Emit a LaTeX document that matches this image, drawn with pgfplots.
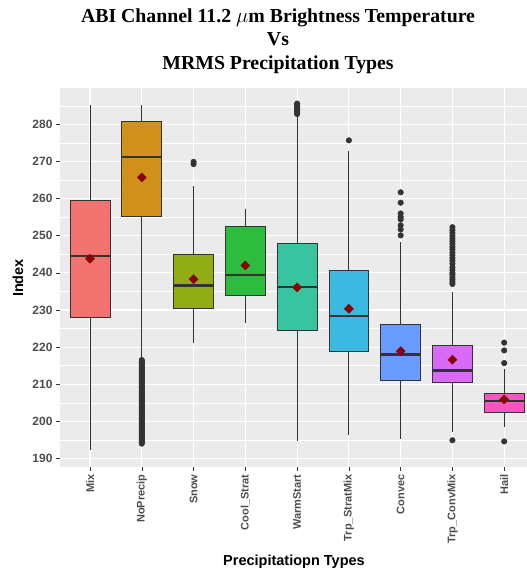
\documentclass[border=0pt]{standalone}
\usepackage{pgfplots}
\pgfplotsset{compat=1.18}
\usepgfplotslibrary{statistics}
\usepackage{fontspec}
\setmainfont{Liberation Sans}
\newfontfamily\titlefont{Liberation Serif}
\definecolor{panelbg}{HTML}{EBEBEB}
\definecolor{boxline}{HTML}{333333}
\definecolor{ticklab}{HTML}{4D4D4D}
\definecolor{meanc}{HTML}{8B0000}
\definecolor{c1}{HTML}{F27370}
\definecolor{c2}{HTML}{D0911A}
\definecolor{c3}{HTML}{91AD13}
\definecolor{c4}{HTML}{2DBC3E}
\definecolor{c5}{HTML}{38C49F}
\definecolor{c6}{HTML}{3BB9E0}
\definecolor{c7}{HTML}{6A9CFF}
\definecolor{c8}{HTML}{D96AF5}
\definecolor{c9}{HTML}{F855C0}
\begin{document}
\begin{tikzpicture}
\path[use as bounding box] (0,0) rectangle (527pt,571pt);
\begin{axis}[
  at={(60pt,104pt)}, anchor=south west,
  scale only axis, width=467pt, height=379pt,
  xmin=0.42, xmax=9.44, ymin=187.7, ymax=289.8,
  axis background/.style={fill=panelbg},
  axis line style={draw=none},
  xtick={1,...,9},
  xticklabels={Mix,NoPrecip,Snow,Cool\_Strat,WarmStart,Trp\_StratMix,Convec,Trp\_ConvMix,Hail},
  ytick={190,200,...,280},
  minor ytick={185,195,...,285},
  xmajorgrids, ymajorgrids, yminorgrids,
  major grid style={white, line width=1.1pt},
  minor grid style={white, line width=0.5pt},
  tick align=outside, xtick pos=bottom, ytick pos=left,
  major tick length=4pt, minor tick length=0pt,
  tick style={color=boxline, line width=0.6pt},
  /pgf/number format/assume math mode=true,
  yticklabel style={font=\bfseries\fontsize{12}{12}\selectfont, text=ticklab},
  xticklabel style={font=\bfseries\fontsize{11}{11}\selectfont, text=ticklab, rotate=90, anchor=east},
  boxplot/draw direction=y,
  boxplot/whisker extend=0,
  boxplot/box extend=0.77,
  boxplot/every median/.style={line width=2.2pt, draw=boxline},
  boxplot/every whisker/.style={line width=0.9pt, draw=boxline},
  boxplot/every box/.style={line width=0.9pt, draw=boxline},
  clip=false,
]
% Boxes
\addplot[fill=c1, draw=boxline, mark=none, boxplot prepared={draw position=1, lower whisker=192.4, lower quartile=228.0, median=244.5, upper quartile=259.6, upper whisker=285.2}] coordinates {};
\addplot[fill=c2, draw=boxline, mark=none, boxplot prepared={draw position=2, lower whisker=216.9, lower quartile=255.1, median=271.3, upper quartile=280.7, upper whisker=285.2}] coordinates {};
\addplot[fill=c3, draw=boxline, mark=none, boxplot prepared={draw position=3, lower whisker=221.1, lower quartile=230.5, median=236.6, upper quartile=245.0, upper whisker=263.4}] coordinates {};
\addplot[fill=c4, draw=boxline, mark=none, boxplot prepared={draw position=4, lower whisker=226.6, lower quartile=233.8, median=239.5, upper quartile=252.4, upper whisker=257.3}] coordinates {};
\addplot[fill=c5, draw=boxline, mark=none, boxplot prepared={draw position=5, lower whisker=194.6, lower quartile=224.6, median=236.1, upper quartile=247.8, upper whisker=282.5}] coordinates {};
\addplot[fill=c6, draw=boxline, mark=none, boxplot prepared={draw position=6, lower whisker=196.4, lower quartile=218.9, median=228.3, upper quartile=240.7, upper whisker=272.9}] coordinates {};
\addplot[fill=c7, draw=boxline, mark=none, boxplot prepared={draw position=7, lower whisker=195.3, lower quartile=211.0, median=218.0, upper quartile=226.1, upper whisker=248.3}] coordinates {};
\addplot[fill=c8, draw=boxline, mark=none, boxplot prepared={draw position=8, lower whisker=197.1, lower quartile=210.4, median=213.7, upper quartile=220.5, upper whisker=234.9}] coordinates {};
\addplot[fill=c9, draw=boxline, mark=none, boxplot prepared={draw position=9, lower whisker=198.5, lower quartile=202.4, median=205.4, upper quartile=207.6, upper whisker=214.2}] coordinates {};
% Outliers
\addplot[only marks, mark=*, mark size=2.8pt, draw=boxline, fill=boxline] coordinates {
(2,194.0)(2,194.3)(2,194.6)(2,194.9)(2,195.2)(2,195.5)(2,195.8)(2,196.1)(2,196.4)(2,196.7)
(2,197.0)(2,197.3)(2,197.6)(2,197.9)(2,198.2)(2,198.5)(2,198.8)(2,199.1)(2,199.4)(2,199.7)
(2,200.0)(2,200.3)(2,200.6)(2,200.9)(2,201.2)(2,201.5)(2,201.8)(2,202.1)(2,202.4)(2,202.7)
(2,203.0)(2,203.3)(2,203.6)(2,203.9)(2,204.2)(2,204.5)(2,204.8)(2,205.1)(2,205.4)(2,205.7)
(2,206.0)(2,206.3)(2,206.6)(2,206.9)(2,207.2)(2,207.5)(2,207.8)(2,208.1)(2,208.4)(2,208.7)
(2,209.0)(2,209.3)(2,209.6)(2,209.9)(2,210.2)(2,210.5)(2,210.8)(2,211.1)(2,211.4)(2,211.7)
(2,212.0)(2,212.3)(2,212.6)(2,212.9)(2,213.2)(2,213.5)(2,213.8)(2,214.1)(2,214.4)(2,214.7)
(2,215.0)(2,215.3)(2,215.6)(2,215.9)(2,216.2)(2,216.5)
(3,269.3)(3,269.9)
(5,282.8)(5,283.2)(5,283.6)(5,284.0)(5,284.4)(5,284.8)(5,285.2)(5,285.6)
(6,275.7)
(7,250.1)(7,251.7)(7,252.8)(7,254.4)(7,255.1)(7,256.0)(7,258.9)(7,261.7)
(8,194.9)
(8,237.0)(8,237.6)(8,238.2)(8,238.8)(8,239.5)(8,240.0)(8,240.8)(8,241.5)(8,242.5)(8,243.3)
(8,244.0)(8,244.8)(8,245.5)(8,246.3)(8,247.0)(8,247.8)(8,248.5)(8,249.2)(8,250.0)(8,250.8)
(8,251.5)(8,252.3)
(9,194.6)(9,215.7)(9,219.1)(9,221.2)
};
% Means
\addplot[only marks, mark=square*, mark size=3.2pt, mark options={rotate=45}, draw=meanc, fill=meanc] coordinates {
(1,243.8)(2,265.7)(3,238.3)(4,242.0)(5,236.1)(6,230.3)(7,218.9)(8,216.6)(9,205.9)
};
\end{axis}
\node[font=\titlefont\bfseries\fontsize{19.8}{23.5}\selectfont, align=center, anchor=center] at (278pt,530pt) {ABI Channel 11.2 $\mu$m Brightness Temperature\\Vs\\MRMS Precipitation Types};
\node[font=\bfseries\fontsize{14.5}{14.5}\selectfont, rotate=90] at (18pt,293pt) {Index};
\node[font=\bfseries\fontsize{14.5}{14.5}\selectfont] at (294pt,9.5pt) {Precipitatiopn Types};
\end{tikzpicture}
\end{document}
